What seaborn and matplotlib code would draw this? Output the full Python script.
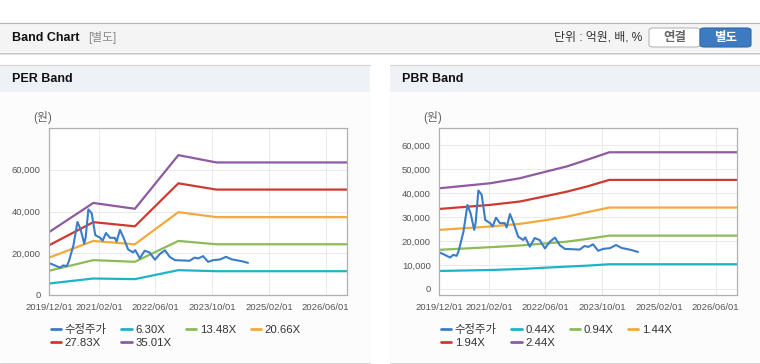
import matplotlib
matplotlib.use('Agg')
import matplotlib.pyplot as plt
import matplotlib.dates as mdates
from matplotlib.patches import Rectangle, FancyBboxPatch
from matplotlib.lines import Line2D
from matplotlib.ticker import FuncFormatter
import pandas as pd
import seaborn as sns

# 수정주가 (adjusted price), shared by both charts
price_dates = ['2019-12-01', '2020-01-20', '2020-03-05', '2020-04-01', '2020-05-01', '2020-05-20',
               '2020-06-28', '2020-08-01', '2020-08-28', '2020-09-28', '2020-10-10', '2020-11-03',
               '2020-12-01', '2021-01-01', '2021-02-12', '2021-03-05', '2021-04-03', '2021-05-07',
               '2021-06-18', '2021-07-03', '2021-08-01', '2021-09-01', '2021-10-10', '2021-11-22',
               '2021-12-10', '2022-01-18', '2022-03-01', '2022-04-12', '2022-05-28', '2022-07-10',
               '2022-08-22', '2022-10-03', '2022-11-15', '2023-03-22', '2023-05-03', '2023-06-03',
               '2023-07-15', '2023-08-28', '2023-10-10', '2023-12-07', '2024-01-28', '2024-03-15',
               '2024-06-10', '2024-08-03']
price_vals = [15300, 14200, 13100, 14200, 13800, 16200,
              23900, 35000, 31500, 24600, 27400, 41000,
              39200, 28700, 27400, 26000, 29700, 27400,
              27400, 25600, 31200, 27400, 21800, 20400,
              21500, 17600, 21200, 20400, 16900, 19700,
              21400, 18200, 16700, 16400, 17900, 17500,
              18600, 15900, 16700, 17000, 18300, 17100,
              16200, 15400]

# PER band
per_dates = ['2019-12-01', '2020-12-15', '2021-12-07', '2022-12-15', '2023-11-07', '2026-12-01']
per_630 = [5500, 7900, 7600, 11900, 11400, 11400]
per_1348 = [11600, 16700, 15900, 25900, 24300, 24300]
per_2066 = [17900, 25900, 24300, 39700, 37300, 37300]
per_2783 = [23800, 34900, 32900, 53500, 50500, 50500]
per_3501 = [30100, 44100, 41300, 67000, 63500, 63500]
per_labels = ['6.30X', '13.48X', '20.66X', '27.83X', '35.01X']

# PBR band
pbr_dates = ['2019-12-01', '2021-02-12', '2021-10-25', '2022-06-10', '2022-12-01',
             '2023-05-20', '2023-12-01', '2026-12-01']
pbr_044 = [7500, 7900, 8300, 8900, 9300, 9700, 10300, 10300]
pbr_094 = [16300, 17400, 18100, 19000, 19700, 20800, 22200, 22200]
pbr_144 = [24600, 26000, 27100, 28700, 30100, 31900, 33900, 33900]
pbr_194 = [33300, 35000, 36400, 38700, 40500, 42600, 45400, 45400]
pbr_244 = [41900, 44000, 46100, 48900, 51000, 53700, 56900, 56900]
pbr_labels = ['0.44X', '0.94X', '1.44X', '1.94X', '2.44X']

x_ticks = ['2019-12-01', '2021-02-01', '2022-06-01', '2023-10-01', '2025-02-01', '2026-06-01']

price_color = '#3b7cc8'
band_colors = ['#1db4c8', '#8cbb58', '#f4a93c', '#cf3a30', '#8e5aa1']

sns.set_style('white')
plt.rcParams['font.family'] = ['Liberation Sans', 'Noto Sans CJK KR', 'DejaVu Sans']

W, H = 760, 364
fig = plt.figure(figsize=(W / 100, H / 100), dpi=100)


def box(x0, y0, x1, y1, color):
    fig.add_artist(Rectangle((x0 / W, 1 - y1 / H), (x1 - x0) / W, (y1 - y0) / H,
                             transform=fig.transFigure, facecolor=color, edgecolor='none', zorder=0))


def hline(x0, x1, y, color):
    fig.add_artist(Line2D([x0 / W, x1 / W], [1 - y / H, 1 - y / H], transform=fig.transFigure,
                          color=color, lw=0.8, zorder=1))


def ftext(x, y, s, **kw):
    fig.text(x / W, 1 - y / H, s, va='center', **kw)


# top header bar
hline(0, W, 22.5, '#b4b4b4')
box(0, 23, W, 52, '#f4f4f4')
hline(0, W, 52.5, '#c4c4c4')
hline(0, W, 53.5, '#e4e4e4')
ftext(12, 38, 'Band Chart', fontsize=9, fontweight='bold', color='#111111')
ftext(88, 38, '[별도]', fontsize=8.5, color='#8a8a8a')
ftext(642, 38, '단위 : 억원, 배, %', fontsize=8.6, color='#333333', ha='right')
fig.add_artist(FancyBboxPatch((649 / W, 1 - 47 / H), 51 / W, 19 / H, transform=fig.transFigure,
                              boxstyle='round,pad=0,rounding_size=0.006', facecolor='white',
                              edgecolor='#b8b8b8', lw=0.8))
fig.add_artist(FancyBboxPatch((700 / W, 1 - 47 / H), 51 / W, 19 / H, transform=fig.transFigure,
                              boxstyle='round,pad=0,rounding_size=0.006', facecolor='#3c7bc0',
                              edgecolor='#3069aa', lw=0.8))
ftext(674.5, 38, '연결', fontsize=9, fontweight='bold', color='#666666', ha='center')
ftext(725.5, 38, '별도', fontsize=9, fontweight='bold', color='white', ha='center')


def draw_panel(px0, px1, title, ax_box, dates, bands, labels, ylim, yticks):
    hline(px0, px1, 64.5, '#d2d2d2')
    box(px0, 65, px1, 92, '#eef2f7')
    box(px0, 92, px1, 362, '#fcfcfc')
    hline(px0, px1, 362.5, '#d6d6d6')
    ftext(px0 + 12, 79, title, fontsize=9, fontweight='bold', color='#111111')

    l, t, r, b = ax_box
    ax = fig.add_axes([l / W, 1 - b / H, (r - l) / W, (b - t) / H])
    ax.set_facecolor('white')
    d = pd.to_datetime(dates)
    for vals, lab, col in zip(bands, labels, band_colors):
        sns.lineplot(x=d, y=vals, ax=ax, color=col, lw=1.6, label=lab)
    sns.lineplot(x=pd.to_datetime(price_dates), y=price_vals, ax=ax, color=price_color,
                 lw=1.5, label='수정주가')

    ax.set_xlim(pd.Timestamp('2019-12-01'), pd.Timestamp('2026-12-01'))
    ax.set_ylim(*ylim)
    ax.set_yticks(yticks)
    ax.set_xticks(pd.to_datetime(x_ticks))
    ax.xaxis.set_major_formatter(mdates.DateFormatter('%Y/%m/%d'))
    ax.yaxis.set_major_formatter(FuncFormatter(lambda v, p: f'{int(v):,}'))
    ax.set_xlabel('')
    ax.set_ylabel('')
    ax.grid(True, color='#e9e9e9', lw=0.7)
    for s in ax.spines.values():
        s.set_color('#b0b0b0')
        s.set_linewidth(0.9)
    ax.tick_params(axis='both', labelsize=6.8, colors='#b0b0b0', labelcolor='#555555',
                   length=4, width=0.8, pad=2, direction='out')
    ax.text(-0.02, 1.065, '(원)', transform=ax.transAxes, fontsize=8.5, color='#666666',
            ha='center', va='center')

    handles, labs = ax.get_legend_handles_labels()
    ax.get_legend().remove()
    order = [5, 3, 0, 4, 1, 2]
    leg = ax.legend([handles[i] for i in order], [labs[i] for i in order], ncol=4,
                    loc='upper left', bbox_to_anchor=((px0 + 51) / W, 1 - 324 / H),
                    bbox_transform=fig.transFigure, frameon=False, fontsize=8.2,
                    handlelength=0.9, handletextpad=0.3, columnspacing=1.3,
                    borderaxespad=0, borderpad=0, labelspacing=0.25)
    for txt in leg.get_texts():
        txt.set_color('#333333')
    for ln in leg.get_lines():
        ln.set_linewidth(2)
    return ax


draw_panel(0, 370, 'PER Band', (49, 128, 347, 295), per_dates,
           [per_630, per_1348, per_2066, per_2783, per_3501], per_labels,
           (0, 80000), [0, 20000, 40000, 60000])
draw_panel(390, 760, 'PBR Band', (439, 128, 737, 295), pbr_dates,
           [pbr_044, pbr_094, pbr_144, pbr_194, pbr_244], pbr_labels,
           (-2500, 67000), [0, 10000, 20000, 30000, 40000, 50000, 60000])

fig.savefig('out.png', dpi=100)
